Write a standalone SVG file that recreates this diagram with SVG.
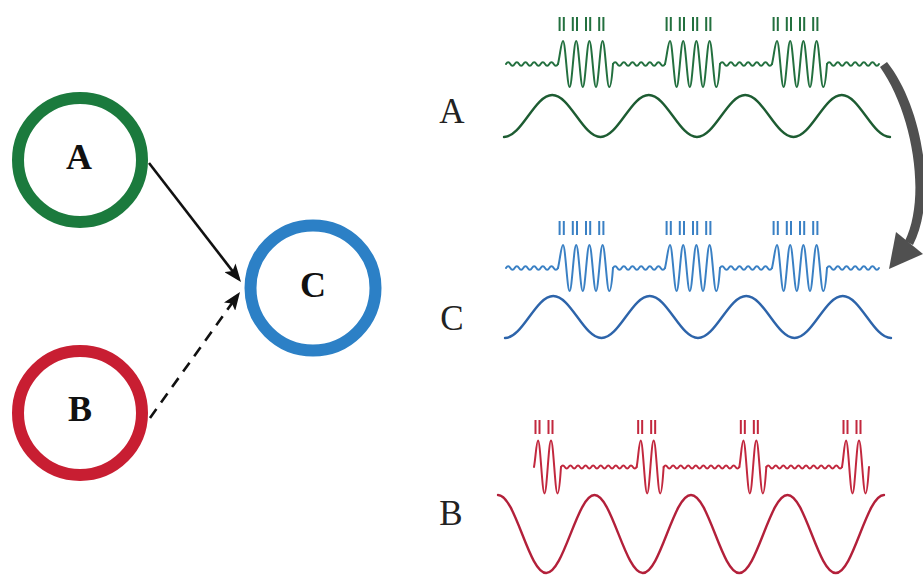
<svg xmlns="http://www.w3.org/2000/svg" xmlns:xlink="http://www.w3.org/1999/xlink" width="923" height="583" viewBox="0 0 923 583">
<style>
.node{fill:none;stroke-width:12}
.lbl{font-family:"Liberation Serif","Times New Roman",serif;font-weight:bold;font-size:36px;fill:#111;text-anchor:middle}
.rlbl{font-family:"Liberation Serif","Times New Roman",serif;font-size:35px;fill:#222;text-anchor:middle}
.fast{fill:none;stroke-width:2;stroke-linejoin:round;stroke-linecap:round}
.tick{fill:none;stroke-width:2}
.slow{fill:none;stroke-width:2.4;stroke-linecap:round}
.edge{stroke:#111;stroke-width:2.6;fill:none}
</style>
<defs>
<marker id="ah" viewBox="0 0 18 14" refX="14" refY="7" markerWidth="18" markerHeight="14" markerUnits="userSpaceOnUse" orient="auto">
<path d="M0,0 L18,7 L0,14 L4,7 Z" fill="#111"/>
</marker>
<path id="wig" d="M0 0 q2.1667 -3.5 4.3333 0 t4.3333 0 t4.3333 0 t4.3333 0 t4.3333 0 t4.3333 0 t4.3333 0 t4.3333 0 t4.3333 0 t4.3333 0 t4.3333 0 t4.3333 0"/>
<path id="bA" d="M0 0 C2 -8 3.2 -23 5 -23 C7.4 -23 9.2 23 11.6 23 S15.8 -23 18.2 -23 S22.4 23 24.8 23 S29 -23 31.4 -23 S35.6 23 38 23 S42.2 -23 44.6 -23 S48.8 23 51.2 23 C53.6 23 54.4 6 55 0"/>
<path id="tA" d="M1.6 -47v14M5.8 -47v14M14.8 -47v14M19 -47v14M28 -47v14M32.2 -47v14M41.2 -47v14M45.4 -47v14"/>
<g id="trainA">
<use xlink:href="#wig" href="#wig" class="fast"/>
<use xlink:href="#bA" href="#bA" class="fast" x="52"/>
<use xlink:href="#tA" href="#tA" class="tick" x="52"/>
<use xlink:href="#wig" href="#wig" class="fast" x="107"/>
<use xlink:href="#bA" href="#bA" class="fast" x="159"/>
<use xlink:href="#tA" href="#tA" class="tick" x="159"/>
<use xlink:href="#wig" href="#wig" class="fast" x="214"/>
<use xlink:href="#bA" href="#bA" class="fast" x="266"/>
<use xlink:href="#tA" href="#tA" class="tick" x="266"/>
<use xlink:href="#wig" href="#wig" class="fast" x="321"/>
</g>
<path id="slowA" d="M504 137 C521.6 137 534.65 95 552.25 95 S582.9 137 600.5 137 S631.15 95 648.75 95 S679.4 137 697 137 S727.65 95 745.25 95 S775.9 137 793.5 137 S824.15 95 841.75 95 S872.4 137 890 137"/>
<path id="wigB" d="M0 0 q1.8917 -3 3.7833 0 t3.7833 0 t3.7833 0 t3.7833 0 t3.7833 0 t3.7833 0 t3.7833 0 t3.7833 0 t3.7833 0 t3.7833 0 t3.7833 0 t3.7833 0 t3.7833 0 t3.7833 0 t3.7833 0 t3.7833 0 t3.7833 0 t3.7833 0 t3.7833 0 t3.7833 0"/>
<path id="bB" d="M0 0 C1.5 -8 2.5 -26.5 4 -26.5 C6.4 -26.5 8.1 26.5 10.5 26.5 S14.6 -26.5 17 -26.5 S21.1 26.5 23.5 26.5 C25.5 26.5 26.3 8 27 0"/>
<path id="tB" d="M1.5 -47v14M5.5 -47v14M14.5 -47v14M18.5 -47v14"/>
</defs>

<g id="connectors">
<line class="edge" x1="149" y1="163" x2="238.55" y2="278.84" marker-end="url(#ah)"/>
<line class="edge" x1="150" y1="418" x2="237.68" y2="295.26" stroke-dasharray="11 8" marker-end="url(#ah)"/>
<g id="arrow-A-to-C" fill="#505050">
<path d="M887 62 C922 106 938 196 913 245 L905 241 C927 196 912 112 880 67 Z"/>
<path d="M889 269 L896 232 L923 254 Z"/>
</g>
</g>

<g id="node-A">
<circle class="node" cx="80" cy="160" r="62" stroke="#1b7a3d"/>
<text class="lbl" x="79" y="169">A</text>
</g>
<g id="node-C">
<circle class="node" cx="313" cy="288" r="62.5" stroke="#2c80c6"/>
<text class="lbl" x="313" y="297">C</text>
</g>
<g id="node-B">
<circle class="node" cx="80" cy="413" r="62" stroke="#c81e32"/>
<text class="lbl" x="80" y="421">B</text>
</g>

<g id="signal-A">
<text class="rlbl" x="452" y="123">A</text>
<use xlink:href="#trainA" href="#trainA" transform="translate(506 64)" stroke="#23703f"/>
<use xlink:href="#slowA" href="#slowA" class="slow" stroke="#1d5c32"/>
</g>
<g id="signal-C">
<text class="rlbl" x="452" y="330">C</text>
<use xlink:href="#trainA" href="#trainA" transform="translate(506 268)" stroke="#3a80c4"/>
<use xlink:href="#slowA" href="#slowA" class="slow" stroke="#2d64aa" transform="translate(1 201)"/>
</g>
<g id="signal-B">
<text class="rlbl" x="451" y="525">B</text>
<g transform="translate(0 467)" stroke="#c2283e">
<use xlink:href="#bB" href="#bB" class="fast" x="534"/>
<use xlink:href="#tB" href="#tB" class="tick" x="534"/>
<use xlink:href="#wigB" href="#wigB" class="fast" x="561"/>
<use xlink:href="#bB" href="#bB" class="fast" x="636.67"/>
<use xlink:href="#tB" href="#tB" class="tick" x="636.67"/>
<use xlink:href="#wigB" href="#wigB" class="fast" x="663.67"/>
<use xlink:href="#bB" href="#bB" class="fast" x="739.33"/>
<use xlink:href="#tB" href="#tB" class="tick" x="739.33"/>
<use xlink:href="#wigB" href="#wigB" class="fast" x="766.33"/>
<use xlink:href="#bB" href="#bB" class="fast" x="842"/>
<use xlink:href="#tB" href="#tB" class="tick" x="842"/>
</g>
<path class="slow" stroke="#b3203a" d="M498 495 C515.6 495 528.65 573 546.25 573 S577.3 495 594.5 495 S625.15 573 642.75 573 S673.4 495 691 495 S721.65 573 739.25 573 S769.9 495 787.5 495 S818.15 573 835.75 573 S866.4 495 884 495"/>
</g>
</svg>
